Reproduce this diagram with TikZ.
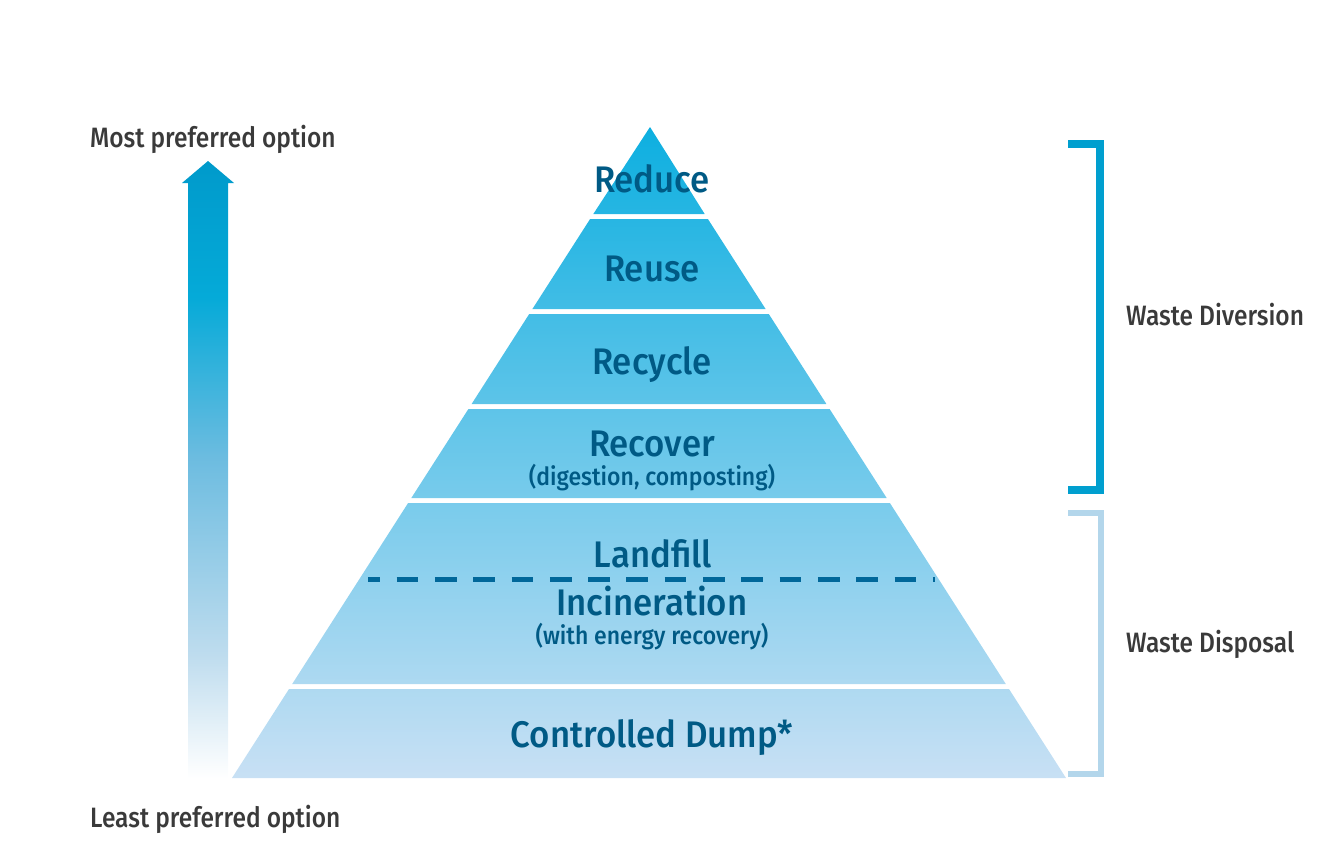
\documentclass[tikz,border=0pt]{standalone}
\usepackage{fontspec}
\setmainfont{Fira Sans}[FakeStretch=0.85]
\newfontfamily\mainlab{Fira Sans Medium}[FakeStretch=0.94]
\newfontfamily\sublab{Fira Sans Medium}[FakeStretch=0.92]
\newfontfamily\sidelab{Fira Sans Medium}[FakeStretch=0.875]
\definecolor{ctop}{HTML}{0DAFE0}
\definecolor{cbot}{HTML}{C8E0F4}
\definecolor{txtblue}{HTML}{005A85}
\definecolor{dashblue}{HTML}{00679A}
\definecolor{txtgrey}{HTML}{3A3A3A}
\definecolor{brkA}{HTML}{009FCF}
\definecolor{brkB}{HTML}{B3D6EB}
\definecolor{arrTop}{HTML}{009ACB}
\definecolor{arrA}{HTML}{05AAD8}
\definecolor{arrB}{HTML}{6CBCE0}
\definecolor{arrC}{HTML}{BEDCEE}
\colorlet{c127}{ctop}
\colorlet{c214}{cbot!13.4!ctop}
\colorlet{c219}{cbot!14.1!ctop}
\colorlet{c309}{cbot!28.0!ctop}
\colorlet{c314}{cbot!28.7!ctop}
\colorlet{c404}{cbot!42.5!ctop}
\colorlet{c409}{cbot!43.3!ctop}
\colorlet{c498}{cbot!57.0!ctop}
\colorlet{c503}{cbot!57.8!ctop}
\colorlet{c684}{cbot!85.6!ctop}
\colorlet{c689}{cbot!86.3!ctop}
\colorlet{c778}{cbot}
\pgfdeclareverticalshading{arrowshade}{100bp}{color(0bp)=(white); color(25bp)=(white); color(35bp)=(arrC); color(51bp)=(arrB); color(64bp)=(arrA); color(75bp)=(arrTop); color(100bp)=(arrTop)}
\tikzset{
  band/.style 2 args={top color=#1, bottom color=#2, draw=none},
  mainlabel/.style={anchor=base, text=txtblue, inner sep=0pt, font=\mainlab\fontsize{37}{40}\selectfont},
  sublabel/.style={anchor=base, text=txtblue, inner sep=0pt, font=\sublab\fontsize{25}{27}\selectfont},
  sidelabel/.style={anchor=base west, text=txtgrey, inner sep=0pt, font=\sidelab\fontsize{28}{30}\selectfont},
  bracketA/.style={draw=brkA, line width=8pt, miter limit=10},
  bracketB/.style={draw=brkB, line width=6pt, miter limit=10},
}
\begin{document}
\begin{tikzpicture}[x=1pt, y=-1pt]
\useasboundingbox (0,0) rectangle (1330,860);
% pyramid bands
\path[band={c127}{c214}] (650,127) -- (704.7,214) -- (593.3,214) -- cycle;
\path[band={c219}{c309}] (590.1,219) -- (707.9,219) -- (765.6,309) -- (532.4,309) -- cycle;
\path[band={c314}{c404}] (529.2,314) -- (768.8,314) -- (826.4,404) -- (471.6,404) -- cycle;
\path[band={c409}{c498}] (468.4,409) -- (829.6,409) -- (886.7,498) -- (411.3,498) -- cycle;
\path[band={c503}{c684}] (408.1,503) -- (889.9,503) -- (1005.8,684) -- (292.2,684) -- cycle;
\path[band={c689}{c778}] (289,689) -- (1009,689) -- (1066,778) -- (232,778) -- cycle;
% dashed divider
\coordinate (dl) at (368,579);
\coordinate (dr) at (935,579);
\draw[dashblue, line width=5pt, dash pattern=on 21.7pt off 16.6pt, dash phase=9.7pt] (dl) -- (dr);
% labels
\node[mainlabel] (reduce) at (652,192) {Reduce};
\node[mainlabel] (reuse) at (652,281) {Reuse};
\node[mainlabel] (recycle) at (652,374) {Recycle};
\node[mainlabel] (recover) at (652,456) {Recover};
\node[sublabel] (recoversub) at (652,485) {(digestion, composting)};
\node[mainlabel] (landfill) at (653,567) {Landfill};
\node[mainlabel] (incin) at (652,615) {Incineration};
\node[sublabel] (incinsub) at (652,644) {(with energy recovery)};
\node[mainlabel] (dump) at (652,747) {Controlled Dump*};
% arrow
\path[shading=arrowshade] (188,778) -- (188,183) -- (182,183) -- (208,161) -- (234,183) -- (228,183) -- (228,778) -- cycle;
\node[sidelabel] (most) at (90,147) {Most preferred option};
\node[sidelabel] (least) at (90,827) {Least preferred option};
% brackets
\path[bracketA] (1068,144) -- (1100,144) -- (1100,490) -- (1068,490);
\path[bracketB] (1068,513) -- (1101,513) -- (1101,774) -- (1068,774);
\node[sidelabel] (div) at (1126,325) {Waste Diversion};
\node[sidelabel] (disp) at (1126,652) {Waste Disposal};
\end{tikzpicture}
\end{document}
